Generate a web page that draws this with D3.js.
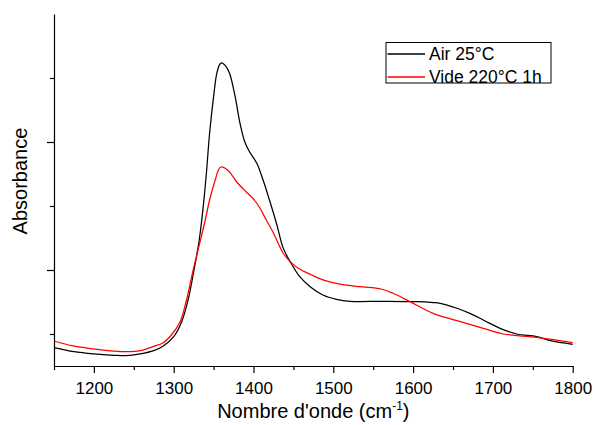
<!DOCTYPE html>
<html>
<head>
<meta charset="utf-8">
<script src="https://cdn.jsdelivr.net/npm/d3@7"></script>
<style>
  html, body { margin: 0; padding: 0; background: #fff; }
  svg { display: block; }
  text { font-family: "Liberation Sans", Arial, sans-serif; fill: #000; }
</style>
</head>
<body>
<svg id="chart" width="595" height="425"></svg>
<script>
// ---- data ----
const airWave = [1150,1175,1200,1225,1240,1258,1275,1287,1300,1310,1318,1325,1332,1337,1341,1345,1350,1354,1358,1361,1365,1370,1377,1383,1389,1395,1404,1412,1420,1429,1437,1446,1458,1471,1487,1504,1521,1563,1604,1625,1634,1655,1671,1688,1709,1730,1755,1772,1800];
const airAbs  = [0.0786,0.0723,0.0688,0.0667,0.0661,0.0688,0.0739,0.0813,0.0958,0.1192,0.1531,0.1969,0.2469,0.2989,0.3516,0.4141,0.4708,0.5073,0.5219,0.5234,0.5188,0.5073,0.4708,0.4297,0.4005,0.3848,0.3672,0.3406,0.3094,0.2719,0.2350,0.2130,0.1895,0.1739,0.1609,0.1542,0.1511,0.1511,0.1505,0.1492,0.1480,0.1402,0.1323,0.1219,0.1089,0.1000,0.0958,0.0895,0.0839];

const videWave = [1150,1174,1199,1224,1241,1258,1274,1287,1297,1308,1316,1325,1333,1339,1345,1352,1356,1359,1364,1370,1379,1391,1400,1408,1416,1425,1437,1446,1456,1473,1490,1508,1533,1560,1575,1596,1625,1655,1688,1713,1755,1800];
const videAbs  = [0.0891,0.0813,0.0766,0.0734,0.0723,0.0739,0.0802,0.0864,0.0984,0.1192,0.1531,0.2031,0.2438,0.2750,0.3094,0.3406,0.3563,0.3609,0.3594,0.3531,0.3375,0.3219,0.3109,0.2969,0.2781,0.2578,0.2266,0.2130,0.2027,0.1922,0.1833,0.1781,0.1739,0.1703,0.1636,0.1505,0.1323,0.1208,0.1089,0.1000,0.0948,0.0864];

const seriesNames = ["Air 25°C", "Vide 220°C 1h"];
const seriesColors = ["#000000", "#ff0000"];

const xMajorTicks = [1200,1300,1400,1500,1600,1700,1800];
const xMinorTicks = [1150,1250,1350,1450,1550,1650,1750];
const yMajorTicks = [0.2,0.4];
const yMinorTicks = [0.1,0.3,0.5];

// ---- layout ----
const svg = d3.select("#chart");
const mLeft = 54, mRight = 572.7, mTop = 14, mBottom = 366;

const x = d3.scaleLinear().domain([1150,1800]).range([mLeft,mRight]);
const y = d3.scaleLinear().domain([0.05,0.6]).range([mBottom,mTop]);

// curves
const series = [
  {name: seriesNames[0], color: seriesColors[0], pts: airWave.map((w,i)=>[w, airAbs[i]])},
  {name: seriesNames[1], color: seriesColors[1], pts: videWave.map((w,i)=>[w, videAbs[i]])}
];
const line = d3.line().x(d=>x(d[0])).y(d=>y(d[1])).curve(d3.curveCatmullRom.alpha(0.5));

svg.append("g").selectAll("path").data(series).join("path")
  .attr("d", d=>line(d.pts))
  .attr("fill","none")
  .attr("stroke", d=>d.color)
  .attr("stroke-width",1.25)
  .attr("stroke-linejoin","round");

// x axis
const gx = svg.append("g").attr("transform",`translate(0,${mBottom})`);
gx.call(d3.axisBottom(x).tickValues(xMajorTicks).tickSize(7).tickSizeOuter(0).tickFormat(d3.format("d")));
gx.selectAll("text").attr("y",27.5).attr("dy",0).style("font-size","17px");
const gxm = svg.append("g").attr("transform",`translate(0,${mBottom})`);
gxm.call(d3.axisBottom(x).tickValues(xMinorTicks).tickSize(4).tickSizeOuter(0).tickFormat(""));
gxm.select(".domain").remove();

// y axis
const gy = svg.append("g").attr("transform",`translate(${mLeft},0)`);
gy.call(d3.axisLeft(y).tickValues(yMajorTicks).tickSize(7).tickSizeOuter(0).tickFormat(""));
const gym = svg.append("g").attr("transform",`translate(${mLeft},0)`);
gym.call(d3.axisLeft(y).tickValues(yMinorTicks).tickSize(4).tickSizeOuter(0).tickFormat(""));
gym.select(".domain").remove();

svg.selectAll(".domain, .tick line").attr("stroke","#000").attr("stroke-width",1.2);

// axis titles
const xt = svg.append("text").attr("x",(mLeft+mRight)/2).attr("y",418)
  .attr("text-anchor","middle").style("font-size","20px");
xt.append("tspan").text("Nombre d'onde (cm");
xt.append("tspan").attr("dy",-8).style("font-size","12px").text("-1");
xt.append("tspan").attr("dy",8).text(")");

svg.append("text").attr("transform","translate(27,181) rotate(-90)")
  .attr("text-anchor","middle").style("font-size","20px").text("Absorbance");

// legend
const lg = svg.append("g");
lg.append("rect").attr("x",386).attr("y",42.5).attr("width",165).attr("height",40.5)
  .attr("fill","#fff").attr("stroke","#000").attr("stroke-width",1);
series.forEach((s,i)=>{
  const yy = 54 + i*23;
  lg.append("line").attr("x1",387.5).attr("x2",425).attr("y1",yy).attr("y2",yy)
    .attr("stroke",s.color).attr("stroke-width",1.3);
  lg.append("text").attr("x",429).attr("y",yy+6).style("font-size","17.5px").text(s.name);
});
</script>
</body>
</html>
